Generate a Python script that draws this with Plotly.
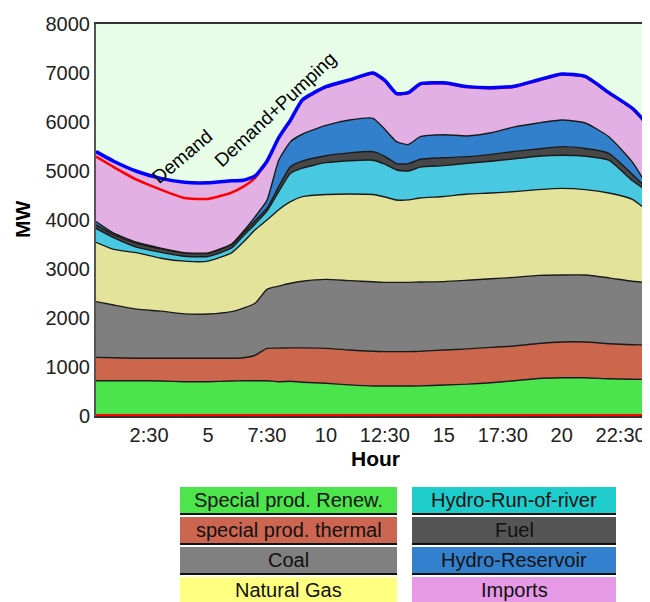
import plotly.graph_objects as go

# hour of day (x axis)
hours = [0.25, 1, 2, 3, 4, 5, 6, 6.5, 7, 7.5, 8, 8.5, 9, 10, 11, 12, 12.5, 13, 13.5, 14,
         15, 16, 17, 18, 19, 20, 21, 22, 23, 23.75]

# production by source, MW (stacked from the bottom)
renew = [720, 720, 720, 715, 700, 700, 715, 720, 720, 720, 700, 710, 690, 667, 635, 612, 612, 612, 612, 615,
         633, 650, 680, 720, 765, 780, 780, 760, 750, 745]
thermal = [477, 470, 460, 465, 480, 480, 465, 470, 520, 660, 685, 680, 700, 714, 712, 708, 701, 701, 701, 705,
           714, 720, 720, 710, 715, 730, 730, 715, 705, 705]
coal = [1137, 1075, 1000, 960, 905, 902, 949, 1010, 1060, 1205, 1265, 1318, 1360, 1408, 1415, 1420, 1415, 1415, 1415, 1415,
        1395, 1400, 1400, 1400, 1390, 1368, 1368, 1345, 1295, 1270]
natural_gas = [1211, 1135, 1150, 1080, 1075, 1078, 1201, 1350, 1500, 1415, 1560, 1666, 1726, 1731, 1769, 1780, 1742, 1680, 1682, 1715,
               1738, 1760, 1750, 1750, 1750, 1767, 1742, 1730, 1670, 1420]
run_of_river = [285, 240, 110, 120, 100, 95, 100, 130, 120, 180, 370, 579, 584, 650, 679, 700, 670, 612, 590, 630,
                630, 627, 650, 670, 680, 675, 680, 670, 380, 420]
fuel = [70, 60, 80, 70, 65, 65, 65, 60, 70, 60, 100, 136, 140, 140, 160, 175, 160, 130, 150, 160,
        160, 136, 140, 150, 150, 177, 160, 140, 130, 20]
reservoir = [66, 30, 20, 15, 10, 10, 15, 30, 80, 160, 540, 510, 550, 620, 670, 680, 550, 450, 390, 460,
             470, 422, 440, 500, 530, 544, 520, 340, 250, 20]
imports = [1429, 1470, 1450, 1425, 1435, 1430, 1290, 1040, 830, 800, 460, 442, 700, 790, 820, 925, 1000, 980, 1060, 1080,
           1060, 1007, 920, 830, 878, 939, 950, 900, 1100, 1290]

# demand without pumping, MW
demand = [5293, 5080, 4817, 4620, 4450, 4430, 4560, 4680, 4860, 5190, 5670, 6030, 6440, 6710, 6850, 6990, 6840, 6570, 6590, 6770,
          6790, 6712, 6690, 6720, 6848, 6970, 6920, 6590, 6270, 5880]
# thin red line along the zero line
pumping_base = [20, 20, 20, 20, 20, 20, 20, 20, 20, 20, 20, 20, 20, 20, 20, 20, 20, 20, 20, 20,
                20, 20, 20, 20, 20, 20, 20, 20, 20, 20]

x_tickvals = [2.5, 5, 7.5, 10, 12.5, 15, 17.5, 20, 22.5]
x_ticktext = ['2:30', '5', '7:30', '10', '12:30', '15', '17:30', '20', '22:30']

layers = [
    ('Special prod. Renew.', renew, '#4ce44c', '#4ce64c'),
    ('special prod. thermal', thermal, '#cc664d', '#cc6650'),
    ('Coal', coal, '#7f7f7f', '#808080'),
    ('Natural Gas', natural_gas, '#e3e39b', '#ffff80'),
    ('Hydro-Run-of-river', run_of_river, '#49c9e1', '#1fcccc'),
    ('Fuel', fuel, '#474747', '#555555'),
    ('Hydro-Reservoir', reservoir, '#3280cc', '#3380cc'),
    ('Imports', imports, '#e3b0e3', '#e69ae6'),
]

# page sits 8px in from the window corner (body margin); layout below in window pixels
OFF = 8
W, H = 650, 602
L, T, B, R = 96, 24, 416, 656


def px(x):
    return (x - L) / (R - L)


def py(y):
    return (B - y) / (B - T)


fig = go.Figure()

for name, vals, col, _ in layers:
    fig.add_trace(go.Scatter(
        x=hours, y=vals, name=name, mode='lines', stackgroup='prod',
        line=dict(color='#1a1a1a', width=1.4, shape='spline', smoothing=0.5),
        fillcolor=col, hoverinfo='skip'
    ))

total = [sum(v) for v in zip(*[lay[1] for lay in layers])]

fig.add_trace(go.Scatter(x=hours, y=pumping_base, mode='lines',
                         line=dict(color='#ff0000', width=2), hoverinfo='skip'))
fig.add_trace(go.Scatter(x=hours, y=demand, mode='lines', name='Demand',
                         line=dict(color='#ff0000', width=2.5, shape='spline', smoothing=0.5), hoverinfo='skip'))
fig.add_trace(go.Scatter(x=hours, y=total, mode='lines', name='Demand+Pumping',
                         line=dict(color='#0000ff', width=3.5, shape='spline', smoothing=0.5), hoverinfo='skip'))

font = 'Liberation Sans, Arial, sans-serif'

fig.update_xaxes(range=[0.25, 24], tickvals=x_tickvals, ticktext=x_ticktext, showgrid=False,
                 zeroline=False, showline=True, linecolor='#333333', linewidth=2, mirror=True, ticks='',
                 tickfont=dict(size=20, color='#222222'))
fig.update_yaxes(range=[0, 8000], dtick=1000, showgrid=False, zeroline=False, showline=True,
                 linecolor='#555555', linewidth=2, ticks='', tickfont=dict(size=20, color='#222222'))

annotations = [
    dict(text='<b>Hour</b>', x=px(375), y=py(458), font=dict(size=21, color='#000')),
    dict(text='<b>MW</b>', x=px(22), y=py(220), textangle=-90, font=dict(size=21, color='#000')),
    dict(text='Demand', x=px(182), y=py(156), textangle=-40, font=dict(size=19, color='#000')),
    dict(text='Demand+Pumping', x=px(275), y=py(109), textangle=-43, font=dict(size=19, color='#000')),
]

# legend drawn as coloured boxes
shapes = []
cols = [(180, 397), (412, 616)]
row_tops = [487, 517, 547, 577]
for i, (name, _, _, leg_col) in enumerate(layers):
    x0, x1 = cols[i // 4]
    top = row_tops[i % 4]
    bot = top + 26
    shapes.append(dict(type='rect', xref='paper', yref='paper', x0=px(x0), x1=px(x1), y0=py(bot), y1=py(top),
                       fillcolor=leg_col, line=dict(width=0), layer='above'))
    shapes.append(dict(type='line', xref='paper', yref='paper', x0=px(x0), x1=px(x1), y0=py(bot + 1), y1=py(bot + 1),
                       line=dict(color='#111111', width=2)))
    annotations.append(dict(text=name, x=px((x0 + x1) / 2), y=py(top + 13), font=dict(size=20, color='#111111')))

for a in annotations:
    a.update(xref='paper', yref='paper', showarrow=False, xanchor='center', yanchor='middle')

fig.update_layout(width=W, height=H,
                  margin=dict(l=L - OFF, r=W + OFF - R, t=T - OFF, b=H + OFF - B),
                  plot_bgcolor='#e8fde8', paper_bgcolor='#ffffff', showlegend=False,
                  font=dict(family=font), annotations=annotations, shapes=shapes)

fig.write_html("out.html")
